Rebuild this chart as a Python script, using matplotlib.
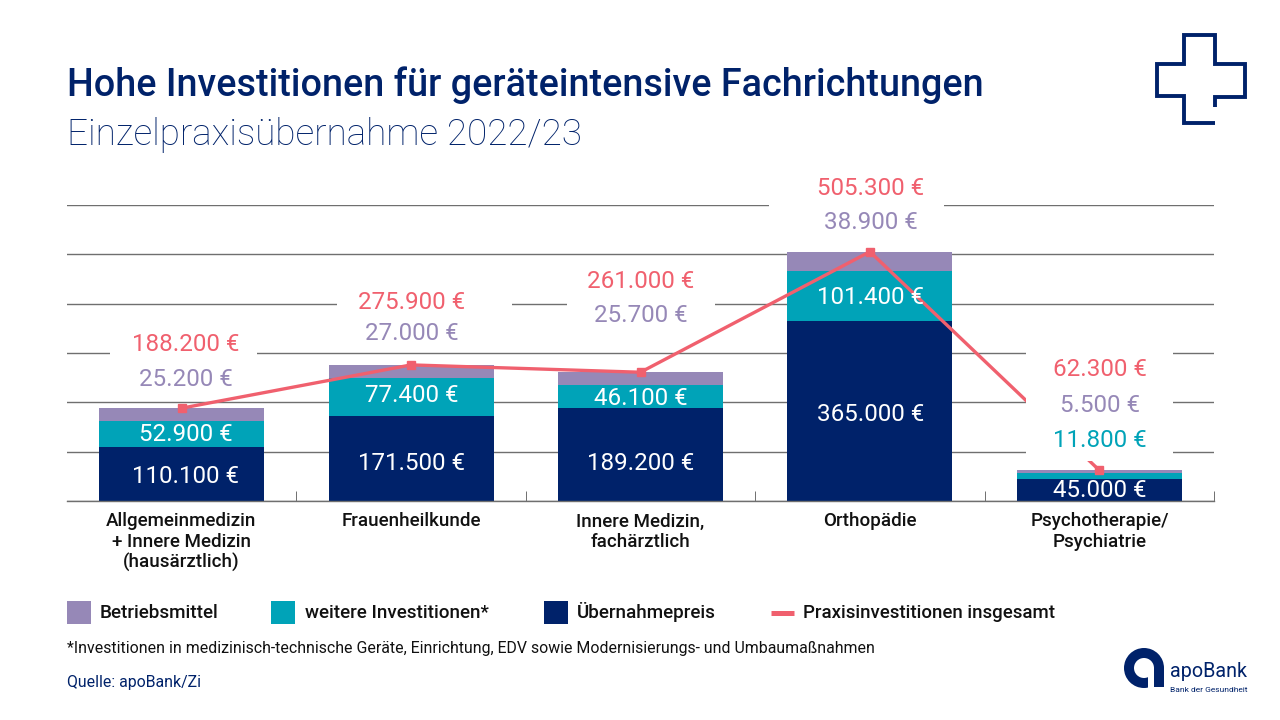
import matplotlib
matplotlib.use("Agg")
import matplotlib.pyplot as plt
from matplotlib.patches import Rectangle, Wedge
from matplotlib.lines import Line2D

categories = ["Allgemeinmedizin\n+ Innere Medizin\n(hausärztlich)", "Frauenheilkunde",
              "Innere Medizin,\nfachärztlich", "Orthopädie", "Psychotherapie/\nPsychiatrie"]
uebernahme = [110100, 171500, 189200, 365000, 45000]
weitere = [52900, 77400, 46100, 101400, 11800]
betrieb = [25200, 27000, 25700, 38900, 5500]
gesamt = [188200, 275900, 261000, 505300, 62300]

NAVY = "#00226A"; TEAL = "#00A3B8"; PURPLE = "#9688B7"; RED = "#F0606E"; GRID = "#6F6F6F"
FONT = "Roboto"
plt.rcParams["font.family"] = [FONT, "DejaVu Sans"]

W, H = 1280, 720
fig = plt.figure(figsize=(12.8, 7.2), dpi=100)
ax = fig.add_axes([67 / W, 1 - 501 / H, (1214 - 67) / W, (501 - 205) / H])
ov = fig.add_axes([0, 0, 1, 1], zorder=10)
ov.set_xlim(0, W); ov.set_ylim(H, 0); ov.axis("off"); ov.patch.set_alpha(0)

def fmt(v):
    return f"{v:,}".replace(",", ".") + " €"

xs = range(len(categories))
bw = 165 / 229.5
bot2 = [a + b for a, b in zip(uebernahme, weitere)]
ax.bar(xs, uebernahme, bw, color=NAVY, zorder=2)
ax.bar(xs, weitere, bw, bottom=uebernahme, color=TEAL, zorder=2)
ax.bar(xs, betrieb, bw, bottom=bot2, color=PURPLE, zorder=2)
ax.plot(xs, gesamt, color=RED, lw=2.4, marker="s", ms=5.6, zorder=3, solid_joinstyle="miter")

ax.set_xlim(-0.5, 4.5)
ax.set_ylim(0, 600000)
ax.set_yticks(range(0, 600001, 100000))
ax.yaxis.grid(True, color=GRID, lw=1.0, zorder=1)
ax.set_axisbelow(True)
ax.tick_params(axis="y", length=0, labelleft=False)
ax.set_xticks([i + 0.5 for i in range(5)])
ax.tick_params(axis="x", direction="in", length=7, width=0.7, color=GRID, labelbottom=False)
for s in ["top", "left", "right"]:
    ax.spines[s].set_visible(False)
ax.spines["bottom"].set_color(GRID); ax.spines["bottom"].set_linewidth(1.0)
ax.patch.set_alpha(0)

# white panels behind the floating labels (px: x0, y0, x1, y1)
for x0, y0, x1, y1 in [(110, 332, 257, 372), (337, 285, 512, 345), (567, 285, 715, 325),
                       (769, 180, 944, 235), (1026, 345, 1173, 461)]:
    ax.add_patch(Rectangle((x0 / W, 1 - y1 / H), (x1 - x0) / W, (y1 - y0) / H,
                           transform=fig.transFigure, fc="white", ec="none", zorder=4))

VS = 17.4
label_dx = [4.5, 0.5, 0.5, 0.5, 0.5]
def label(i, y, txt, col):
    ov.text(181.5 + 229.5 * i + label_dx[i], y, txt, color=col, fontsize=VS, ha="center", va="center_baseline")

ypos_total = [342, 300, 279, 186, 367]
ypos_betr = [377, 331, 313, 220, 403]
ypos_weit = [432, 393, 396, 295, 438]
ypos_ueb = [474, 461, 461, 412, 488]
for i in xs:
    label(i, ypos_total[i], fmt(gesamt[i]), RED)
    label(i, ypos_betr[i], fmt(betrieb[i]), PURPLE)
    label(i, ypos_weit[i], fmt(weitere[i]), TEAL if i == 4 else "white")
    label(i, ypos_ueb[i], fmt(uebernahme[i]), "white")

for i, c in enumerate(categories):
    ov.text(181.5 + 229.5 * i, 512.5, c, fontsize=13.5, color="#111111", ha="center", va="top",
            linespacing=1.17, fontweight="medium")

ov.text(67, 96, "Hohe Investitionen für geräteintensive Fachrichtungen", fontsize=27.15,
        color=NAVY, fontweight="medium", va="baseline")
ov.text(67, 145, "Einzelpraxisübernahme 2022/23", fontsize=26.6, color=NAVY,
        fontweight="light", va="baseline")

# legend
for x, col, t, tx in [(67, PURPLE, "Betriebsmittel", 100), (271, TEAL, "weitere Investitionen*", 305),
                      (544, NAVY, "Übernahmepreis", 577)]:
    ov.add_patch(Rectangle((x, 601), 24, 23, fc=col, ec="none"))
    ov.text(tx, 618, t, fontsize=13.6, color="#111111", va="baseline", fontweight="medium")
ov.add_line(Line2D([771, 794], [612.5, 612.5], color=RED, lw=3.6, solid_capstyle="butt"))
ov.text(803, 618, "Praxisinvestitionen insgesamt", fontsize=13.45, color="#111111",
        va="baseline", fontweight="medium")

ov.text(67, 652.5, "*Investitionen in medizinisch-technische Geräte, Einrichtung, EDV sowie Modernisierungs- und Umbaumaßnahmen",
        fontsize=11.4, color="#111111", va="baseline")
ov.text(67, 687, "Quelle: apoBank/Zi", fontsize=11.4, color=NAVY, va="baseline")

# cross emblem
px = [1215, 1215, 1245, 1245, 1215, 1215, 1184, 1184, 1157, 1157, 1184, 1184, 1215]
py = [107, 97, 97, 64, 64, 35, 35, 64, 64, 96, 96, 123, 123]
ov.add_line(Line2D(px, py, color=NAVY, lw=2.8, solid_joinstyle="miter", solid_capstyle="butt"))

# logo
ov.add_patch(Wedge((1144, 668), 20, 0, 360, width=10, fc=NAVY, ec="none"))
ov.add_patch(Rectangle((1148, 668), 6, 20, fc="white", ec="none"))
ov.add_patch(Rectangle((1154, 668), 10, 19, fc=NAVY, ec="none"))
ov.text(1170, 677, "apoBank", fontsize=14.2, color=NAVY, va="baseline")
ov.text(1170, 692, "Bank der Gesundheit", fontsize=6, color=NAVY, va="baseline")

fig.savefig("out.png", dpi=100, facecolor="white")
